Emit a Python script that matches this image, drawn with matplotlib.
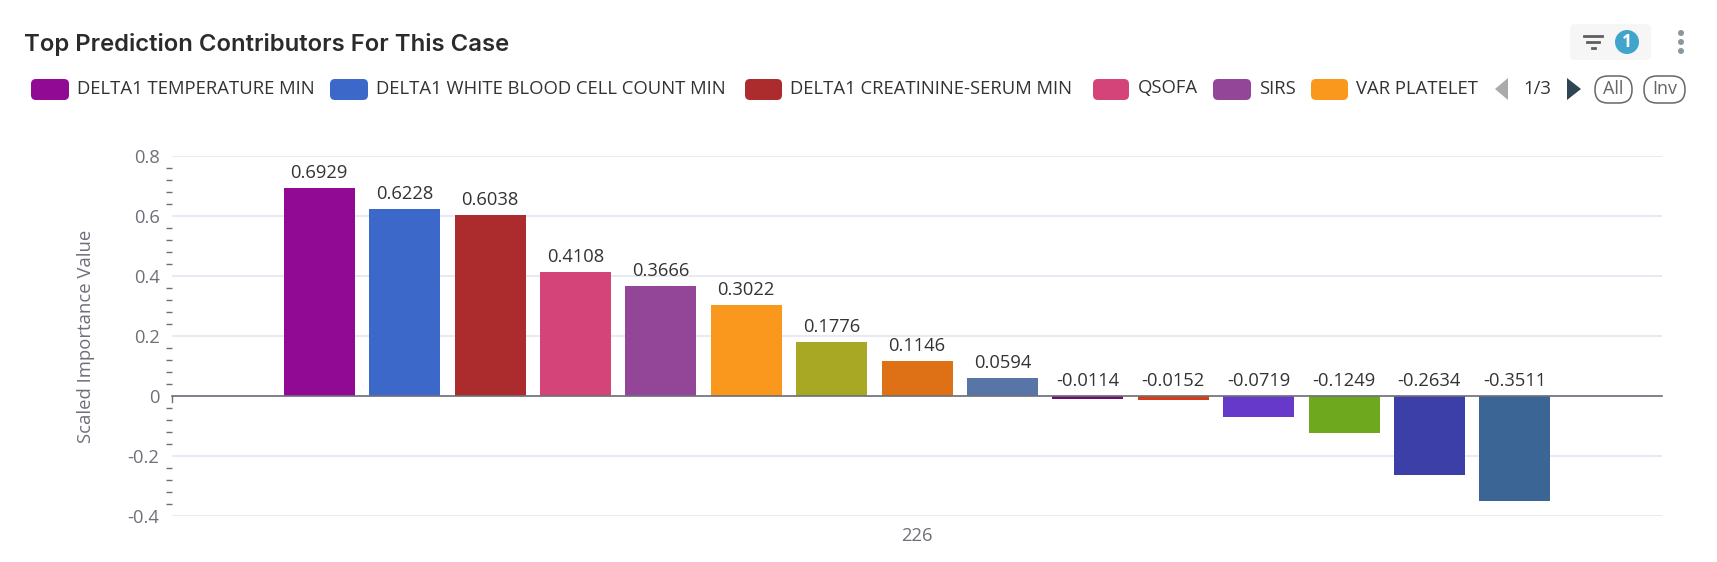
import matplotlib
matplotlib.use("Agg")
import matplotlib.pyplot as plt
from matplotlib.patches import FancyBboxPatch, Polygon, Circle
from matplotlib.ticker import MultipleLocator, FixedLocator

W, H = 1717, 562
features = ["DELTA1 TEMPERATURE MIN", "DELTA1 WHITE BLOOD CELL COUNT MIN", "DELTA1 CREATININE-SERUM MIN",
            "QSOFA", "SIRS", "VAR PLATELET"]
values = [0.6929, 0.6228, 0.6038, 0.4108, 0.3666, 0.3022, 0.1776, 0.1146, 0.0594,
          -0.0114, -0.0152, -0.0719, -0.1249, -0.2634, -0.3511]
colors = ["#900A94", "#3C68C9", "#AC2B2D", "#D44479", "#934697", "#FA981D", "#A8A825", "#DE7015",
          "#5875A7", "#6B0F6E", "#D93C14", "#6639CB", "#6EA81F", "#3B3FA7", "#3A6595"]
category = "226"
yticks = [-0.4, -0.2, 0, 0.2, 0.4, 0.6, 0.8]
ytick_labels = ["-0.4", "-0.2", "0", "0.2", "0.4", "0.6", "0.8"]
legend_x = [(31, 69, 77), (330, 368, 376), (745, 782, 790), (1093, 1129, 1138), (1213, 1251, 1259), (1311, 1348, 1356)]

FONT = "Open Sans"
GREY = "#6E7079"
DARK = "#333333"

fig = plt.figure(figsize=(W / 100, H / 100), dpi=100, facecolor="white")
ax = fig.add_axes([172 / W, 1 - 515.7 / H, (1662 - 172) / W, 360 / H])
overlay = fig.add_axes([0, 0, 1, 1], facecolor="none")
overlay.set_xlim(0, W)
overlay.set_ylim(H, 0)
overlay.axis("off")

pitch = 85.4
half = 745 / pitch
positions = list(range(len(values)))
ax.bar(positions, values, width=71 / pitch, color=colors, zorder=3)
ax.set_xlim(7 - half, 7 + half)
ax.set_ylim(-0.4, 0.8)
for s in ["top", "right", "left"]:
    ax.spines[s].set_visible(False)
ax.spines["bottom"].set_position(("data", 0))
ax.spines["bottom"].set_color(GREY)
ax.spines["bottom"].set_linewidth(1.2)
ax.spines["bottom"].set_zorder(4)
ax.set_yticks(yticks)
ax.set_yticklabels(ytick_labels, fontfamily=FONT, fontsize=13.2, color=GREY)
ax.yaxis.set_minor_locator(MultipleLocator(0.04))
ax.tick_params(axis="y", which="major", length=0, pad=9)
ax.tick_params(axis="y", which="minor", length=4, width=1, color=GREY)
ax.grid(axis="y", which="major", color="#E0E6F1", linewidth=1.2, zorder=0)
ax.set_axisbelow(True)
ax.xaxis.set_major_locator(FixedLocator([7]))
ax.set_xticklabels([])
ax.tick_params(axis="x", length=0)
for p, v in zip(positions, values):
    ax.annotate(f"{v:.4f}", (p, max(v, 0)), xytext=(0, 6), textcoords="offset pixels", ha="center", va="bottom",
                fontfamily=FONT, fontsize=13.2, color=DARK, zorder=5)

overlay.text(917, 536, category, ha="center", va="center", fontfamily=FONT, fontsize=13.2, color=GREY)
overlay.text(86, 336, "Scaled Importance Value", rotation=90, ha="center", va="center",
             fontfamily=FONT, fontsize=13.3, color=GREY)
overlay.plot([172, 172], [396, 402], color=GREY, lw=1)

overlay.text(24, 44, "Top Prediction Contributors For This Case", ha="left", va="center",
             fontfamily="Inter", fontweight="semibold", fontsize=17.2, color="#2B2B2B")

for (x0, x1, tx), name, c in zip(legend_x, features, colors):
    overlay.add_patch(FancyBboxPatch((x0 + 4, 83), x1 - x0 - 8, 13, boxstyle="round,pad=4,rounding_size=5", fc=c, ec="none"))
    overlay.text(tx, 88.5, name, ha="left", va="center", fontfamily=FONT, fontsize=13.35, color=DARK)

overlay.add_patch(Polygon([(1508, 78), (1508, 100), (1495, 89)], fc="#AAAAAA", ec="none"))
overlay.text(1537.5, 88.5, "1/3", ha="center", va="center", fontfamily=FONT, fontsize=13.3, color=DARK)
overlay.add_patch(Polygon([(1567, 78), (1567, 100), (1581, 89)], fc="#2F4554", ec="none"))
for x0, x1, t in [(1595, 1632, "All"), (1644, 1685, "Inv")]:
    overlay.add_patch(FancyBboxPatch((x0 + 13, 89), x1 - x0 - 26, 1, boxstyle="round,pad=13,rounding_size=13",
                                     fc="white", ec="#666666", lw=1.1))
    overlay.text((x0 + x1) / 2, 89.5, t, ha="center", va="center", fontfamily=FONT, fontsize=13, color="#666666")

overlay.add_patch(FancyBboxPatch((1575, 29), 71, 26, boxstyle="round,pad=5,rounding_size=5", fc="#F6F6F6", ec="none"))
overlay.plot([1584, 1602], [36, 36], color="#5F5F5F", lw=2)
overlay.plot([1587, 1599], [41.5, 41.5], color="#5F5F5F", lw=2)
overlay.plot([1591.5, 1594.5], [48, 48], color="#5F5F5F", lw=2)
overlay.add_patch(Circle((1627, 42), 12, fc="#41A5CB", ec="none"))
overlay.text(1627, 42, "1", ha="center", va="center", fontfamily=FONT, fontweight="bold", fontsize=12.5, color="white")
for y in [33, 42, 51]:
    overlay.add_patch(Circle((1681, y), 3, fc="#8A979E", ec="none"))

fig.savefig("out.png", dpi=100, facecolor="white")
